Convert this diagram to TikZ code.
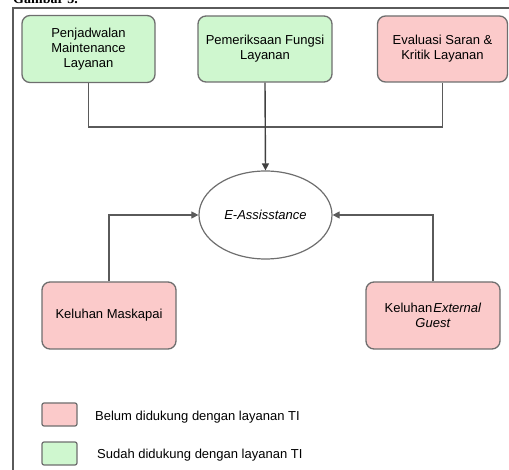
\documentclass[tikz,border=0pt]{standalone}
\usepackage{fontspec}
\setmainfont{Liberation Sans}
\newfontfamily\captionserif{Liberation Serif}
\usetikzlibrary{arrows.meta,shapes.geometric}
\definecolor{boxgreen}{HTML}{CFF7CF}
\definecolor{boxpink}{HTML}{FBCACA}
\definecolor{edgegray}{HTML}{6E6E6E}
\definecolor{linegray}{HTML}{5A5A5A}
\tikzset{
  procbox/.style={draw=edgegray, line width=1.3pt, rounded corners=8pt, align=center,
    font=\fontsize{13}{15}\selectfont, inner sep=0pt},
  greenbox/.style={procbox, fill=boxgreen},
  pinkbox/.style={procbox, fill=boxpink},
  legendbox/.style={draw=edgegray, line width=1.2pt, rounded corners=2pt, minimum width=35pt, minimum height=23pt, inner sep=0pt},
  conn/.style={draw=linegray, line width=1.1pt},
  arr/.style={conn, -{Triangle[length=7pt,width=7pt]}},
  legendtext/.style={anchor=west, font=\fontsize{13}{15}\selectfont, inner sep=0pt}
}
\begin{document}
\begin{tikzpicture}[x=1pt,y=-1pt]
\useasboundingbox (0,0) rectangle (509,470);
\begin{scope}
\clip (0,0) rectangle (509,470);
\node[anchor=base west, inner sep=0pt, font=\captionserif\bfseries\fontsize{14}{16}\selectfont] (cap) at (13,4) {Gambar 3.};
\end{scope}
\draw[draw=linegray, line width=2pt] (13,470) -- (13,8) -- (509,8);

\node[greenbox, minimum width=133pt, minimum height=67pt] (b1) at (88.5,49) {Penjadwalan\\Maintenance\\Layanan};
\node[greenbox, minimum width=134pt, minimum height=66pt] (b2) at (265,49) {Pemeriksaan Fungsi\\Layanan};
\node[pinkbox, minimum width=130pt, minimum height=66pt] (b3) at (442.5,49) {Evaluasi Saran \&\\Kritik Layanan};

\node[ellipse, draw=edgegray, line width=1.2pt, minimum width=133pt, minimum height=88pt, inner sep=0pt,
  font=\fontsize{13}{15}\selectfont\itshape] (ea) at (265.5,215) {E-Assisstance};

\node[pinkbox, minimum width=134pt, minimum height=67pt] (b4) at (109,315.5) {Keluhan Maskapai};
\node[pinkbox, minimum width=134pt, minimum height=67pt] (b5) at (433,315.5) {Keluhan\kern1pt\textit{External}\\\textit{Guest}};

\coordinate (j) at (265,127);
\draw[conn] (b1.south) |- (j) -| (b3.south);
\draw[arr, line width=1.4pt, draw=black!75] (b2.south) -- (ea.north);
\draw[arr] (b4.north) |- (ea.west);
\draw[arr] (b5.north) |- (ea.east);

\node[legendbox, fill=boxpink] (lp) at (59.5,414.5) {};
\node[legendbox, fill=boxgreen] (lg) at (59.5,453.5) {};
\node[legendtext] (lpt) at (95,417) {Belum didukung dengan layanan TI};
\node[legendtext] (lgt) at (97,455) {Sudah didukung dengan layanan TI};
\end{tikzpicture}
\end{document}
